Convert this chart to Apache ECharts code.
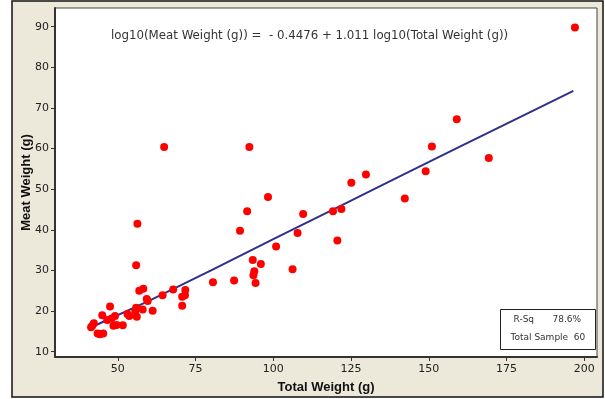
<!DOCTYPE html>
<html>
<head>
<meta charset="utf-8">
<script src="https://cdn.jsdelivr.net/npm/echarts@6/dist/echarts.min.js"></script>
<style>
  html, body { margin: 0; padding: 0; background: #fff; }
  #main { width: 605px; height: 399px; }
</style>
</head>
<body>
<div id="main"></div>
<script>
(function () {

    // points
    var totalWeight = [197, 159, 151, 149, 169.3, 142.3, 129.8, 125.1, 109.6, 119.2,
        121.9, 107.8, 120.6, 106.2, 64.9, 92.3, 98.3, 91.6, 89.3, 100.9,
        93.4, 96.0, 93.9, 93.6, 94.3, 80.6, 87.4, 56.3, 55.9, 56.9,
        58.2, 59.3, 59.6, 64.4, 67.8, 71.7, 71.6, 70.7, 70.7, 61.2,
        58.0, 55.9, 55.6, 56.1, 53.1, 53.7, 51.6, 49.6, 48.6, 49.1,
        46.6, 47.5, 45.0, 45.3, 43.5, 42.3, 41.8, 41.4, 44.2, 48.0];
    var meatWeight = [89.8, 67.2, 60.5, 54.4, 57.7, 47.7, 53.6, 51.6, 43.9, 44.6,
        45.1, 39.2, 37.4, 30.3, 60.4, 60.4, 48.1, 44.6, 39.8, 35.9,
        32.6, 31.6, 29.8, 28.8, 26.9, 27.1, 27.5, 41.5, 31.3, 25.0,
        25.5, 23.0, 22.5, 23.9, 25.3, 25.2, 23.9, 23.5, 21.3, 20.1,
        20.4, 20.8, 20.0, 18.6, 19.3, 18.8, 16.5, 16.6, 16.4, 18.8,
        17.8, 21.1, 19.0, 14.5, 14.5, 17.0, 16.4, 16.0, 14.3, 18.2];

    // fitted line
    var fitX = [42, 60, 80, 100, 120, 140, 160, 180, 196.5];
    var fitY = [16.2, 22.5, 30.0, 37.7, 45.3, 52.9, 60.5, 68.0, 74.2];

    var xTicks = [50, 75, 100, 125, 150, 175, 200];
    var yTicks = [10, 20, 30, 40, 50, 60, 70, 80, 90];

    var equation = 'log10(Meat Weight (g)) =  - 0.4476 + 1.011 log10(Total Weight (g))';
    var rSq = '78.6%';
    var totalSample = '60';

    var points = [];
    for (var i = 0; i < totalWeight.length; i++) {
        points.push([totalWeight[i], meatWeight[i]]);
    }
    var fitLine = [];
    for (var j = 0; j < fitX.length; j++) {
        fitLine.push([fitX[j], fitY[j]]);
    }

    var chart = echarts.init(document.getElementById('main'));

    var labelFont = {
        color: '#222',
        fontFamily: 'DejaVu Sans',
        fontSize: 11
    };

    var option = {
        backgroundColor: '#fff',
        animation: false,
        title: {
            text: equation,
            left: 106,
            top: 25,
            textStyle: {
                color: '#333',
                fontFamily: 'DejaVu Sans',
                fontWeight: 'normal',
                fontSize: 11.8
            }
        },
        graphic: [
            {
                type: 'rect',
                z: -10,
                shape: {x: 12, y: 1, width: 591, height: 396},
                style: {fill: '#ECE9DA', stroke: '#111', lineWidth: 1.5}
            },
            {
                type: 'group',
                left: 500,
                top: 309,
                z: 100,
                children: [
                    {
                        type: 'rect',
                        shape: {x: 0, y: 0, width: 95, height: 40},
                        style: {fill: '#fff', stroke: '#222', lineWidth: 1}
                    },
                    {
                        type: 'text',
                        x: 13, y: 6,
                        style: {text: 'R-Sq', fill: '#333', font: '9px "DejaVu Sans"'}
                    },
                    {
                        type: 'text',
                        x: 52, y: 6,
                        style: {text: rSq, fill: '#333', font: '9px "DejaVu Sans"'}
                    },
                    {
                        type: 'text',
                        x: 10, y: 24,
                        style: {text: 'Total Sample  ' + totalSample, fill: '#333', font: '9px "DejaVu Sans"'}
                    }
                ]
            }
        ],
        grid: {
            left: 55,
            right: 8,
            top: 8,
            bottom: 42,
            show: true,
            backgroundColor: '#fff',
            borderColor: '#444',
            borderWidth: 1
        },
        xAxis: {
            type: 'value',
            min: 29.8,
            max: 204.1,
            name: 'Total Weight (g)',
            nameLocation: 'middle',
            nameGap: 24,
            nameTextStyle: {
                color: '#111',
                fontFamily: 'Liberation Sans',
                fontWeight: 'bold',
                fontSize: 13
            },
            axisLine: {onZero: false, lineStyle: {color: '#333', width: 2}},
            axisTick: {show: true, length: 4, customValues: xTicks, lineStyle: {color: '#333'}},
            axisLabel: Object.assign({margin: 7, customValues: xTicks}, labelFont),
            splitLine: {show: false}
        },
        yAxis: {
            type: 'value',
            min: 8.7,
            max: 94.6,
            name: 'Meat Weight (g)',
            nameLocation: 'middle',
            nameGap: 22,
            nameMoveOverlap: false,
            nameTextStyle: {
                color: '#111',
                fontFamily: 'Liberation Sans',
                fontWeight: 'bold',
                fontSize: 13
            },
            axisLine: {onZero: false, lineStyle: {color: '#333', width: 2}},
            axisTick: {show: true, length: 4, customValues: yTicks, lineStyle: {color: '#333'}},
            axisLabel: Object.assign({margin: 6, customValues: yTicks}, labelFont),
            splitLine: {show: false}
        },
        series: [
            {
                type: 'line',
                data: fitLine,
                smooth: false,
                showSymbol: false,
                lineStyle: {color: '#2f2f8c', width: 2},
                z: 2
            },
            {
                type: 'scatter',
                data: points,
                symbolSize: 8,
                itemStyle: {color: '#ff0000', opacity: 1},
                z: 3
            }
        ]
    };

    chart.setOption(option);
})();
</script>
</body>
</html>
